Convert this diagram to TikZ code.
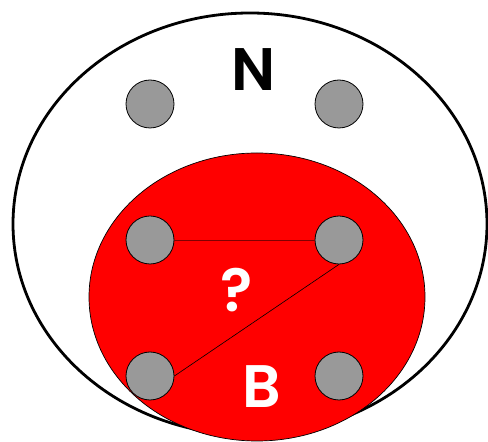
\documentclass[tikz,border=0pt]{standalone}
\usepackage{fontspec}
\newfontfamily\labelfont{Poppins SemiBold}
\begin{document}
\begin{tikzpicture}[x=1pt,y=1pt,
  vert/.style={circle,draw=black,line width=0.8pt,fill=gray!80,minimum size=48pt,inner sep=0pt},
  lbl/.style={font=\labelfont\fontsize{60}{60}\selectfont,inner sep=0pt}]
\useasboundingbox (0,0) rectangle (488,442);
\draw[line width=2.8pt,fill=white] (250,218) ellipse [x radius=237, y radius=211];
\draw[line width=0.7pt,fill=red] (257,145) ellipse [x radius=168, y radius=144];
\node[vert] (a) at (150,338) {};
\node[vert] (b) at (339,338) {};
\node[vert] (c) at (150,202) {};
\node[vert] (d) at (339,202) {};
\node[vert] (e) at (150,66) {};
\node[vert] (f) at (339,66) {};
\draw[line width=0.9pt,red!50!black] (c.east) -- (d.west);
\draw[line width=0.6pt] (d.south) -- (e.east);
\node[lbl,text=black] (n) at (254,372) {N};
\node[lbl,text=white] (q) at (237,152) {?};
\node[lbl,text=white] (bl) at (262,55) {B};
\end{tikzpicture}
\end{document}
